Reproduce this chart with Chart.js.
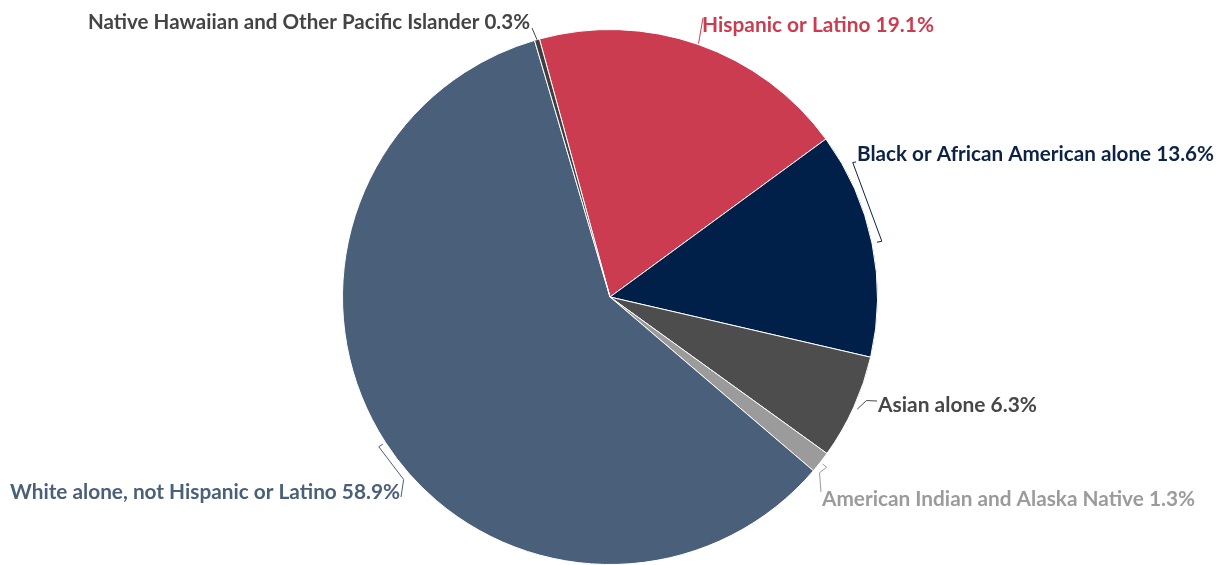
<!DOCTYPE html>
<html>
<head>
<meta charset="utf-8">
<script src="https://cdn.jsdelivr.net/npm/chart.js@4.4.1/dist/chart.umd.min.js"></script>
<style>
  html, body { margin: 0; padding: 0; background: #fff; }
  canvas { display: block; }
</style>
</head>
<body>
<canvas id="myChart-Race" width="1223" height="565"></canvas>
<script>
const categories = [
  'Hispanic or Latino',
  'Black or African American alone',
  'Asian alone',
  'American Indian and Alaska Native',
  'White alone, not Hispanic or Latino',
  'Native Hawaiian and Other Pacific Islander'
];
const shares = [19.1, 13.6, 6.3, 1.3, 58.9, 0.3];
const sliceColors = ['#cc3c51', '#00204a', '#4d4d4d', '#9b9b9b', '#4a5f79', '#3f3f3f'];
const labelColors = ['#cc3c51', '#0c2247', '#474747', '#9b9b9b', '#4a5f79', '#444444'];

// where each label sits and how its connector bends
// deg = clockwise from 12 o'clock, off = pixels outside the pie edge
const labelLayout = [
  { x: 702, y: 32, align: 'left',  w: 232, path: [['mid', 1], ['pt', 703, 18]] },
  { x: 857, y: 161, align: 'left', w: 357, path: [['mid', 5], ['mid', 10], ['deg', 61, 10], ['pt', 856, 162]] },
  { x: 878, y: 412, align: 'left', w: 159, path: [['mid', 4], ['deg', 112, 9], ['pt', 877, 401]] },
  { x: 822, y: 506, align: 'left', w: 373, path: [['mid', 3], ['mid', 8], ['deg', 130, 6], ['pt', 821, 492]] },
  { x: 400, y: 499, align: 'right', w: 390, path: [['mid', 3], ['mid', 8], ['deg', 228.5, 8], ['pt', 401, 497]] },
  { x: 530, y: 29, align: 'right', w: 442, path: [['mid', 0], ['pt', 532, 28]] }
];

const pieLabels = {
  id: 'pieLabels',
  afterDraw(chart) {
    const ctx = chart.ctx;
    const arcs = chart.getDatasetMeta(0).data;
    ctx.save();
    ctx.font = 'bold 21px Lato';
    ctx.textBaseline = 'alphabetic';
    ctx.lineWidth = 1;
    arcs.forEach((arc, i) => {
      const lay = labelLayout[i];
      const cx = arc.x, cy = arc.y, R = arc.outerRadius;
      const mid = (arc.startAngle + arc.endAngle) / 2;
      const pts = lay.path.map(p => {
        if (p[0] === 'pt') return [p[1], p[2]];
        const a = p[0] === 'mid' ? mid : (p[1] - 90) * Math.PI / 180;
        const off = p[0] === 'mid' ? p[1] : p[2];
        return [cx + Math.cos(a) * (R + off), cy + Math.sin(a) * (R + off)];
      });
      ctx.strokeStyle = labelColors[i];
      ctx.beginPath();
      pts.forEach((p, k) => k ? ctx.lineTo(p[0], p[1]) : ctx.moveTo(p[0], p[1]));
      ctx.stroke();

      ctx.fillStyle = labelColors[i];
      ctx.textAlign = lay.align;
      ctx.fillText(categories[i] + ' ' + shares[i].toFixed(1) + '%', lay.x, lay.y, lay.w);
    });
    ctx.restore();
  }
};

new Chart(document.getElementById('myChart-Race'), {
  type: 'pie',
  data: {
    labels: categories,
    datasets: [{
      data: shares,
      backgroundColor: sliceColors,
      borderColor: '#ffffff',
      borderWidth: 1
    }]
  },
  options: {
    responsive: false,
    animation: false,
    rotation: -15.3,
    layout: { padding: { top: 29, bottom: -3, left: 0, right: 3 } },
    plugins: {
      legend: { display: false },
      tooltip: { enabled: false }
    }
  },
  plugins: [pieLabels]
});
</script>
</body>
</html>
